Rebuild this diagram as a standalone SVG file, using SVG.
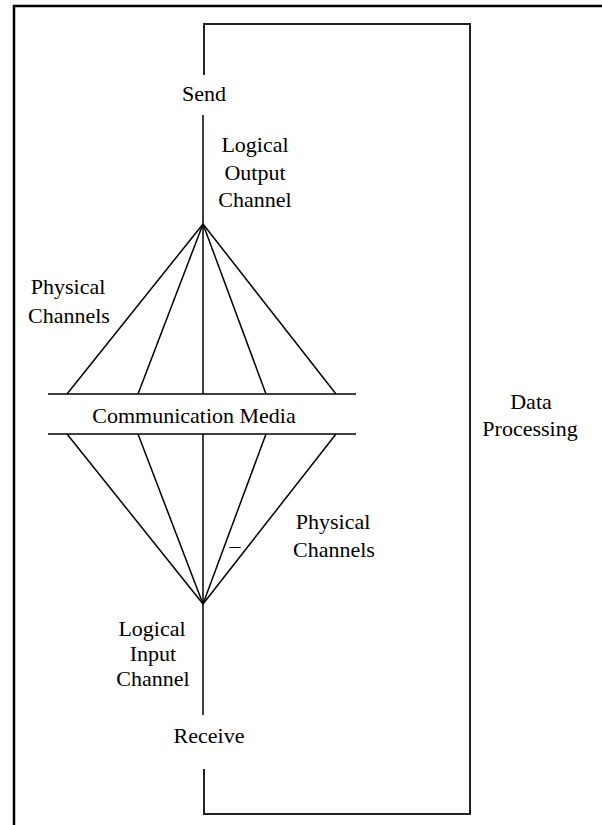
<svg xmlns="http://www.w3.org/2000/svg" width="602" height="825" viewBox="0 0 602 825">
  <style>
    text { font-family: "Liberation Serif", "Times New Roman", serif; font-size: 22px; fill: #000; text-anchor: middle; }
    .wire { stroke: #000; stroke-width: 1.5; fill: none; }
    .loop { stroke: #222; stroke-width: 2; fill: none; }
    .frame { stroke: #000; stroke-width: 2.5; fill: none; }
  </style>
  <rect width="602" height="825" fill="#fff"/>
  <!-- page frame -->
  <polyline class="frame" points="14,825 14,6 602,6"/>

  <g id="connectors">
    <!-- data processing loop -->
    <polyline class="loop" points="204,75 204,24 470,24 470,814 204,814 204,769"/>
    <!-- logical output channel -->
    <line class="wire" x1="203" y1="115" x2="203" y2="224"/>
    <!-- upper physical channels fan -->
    <line class="wire" x1="203" y1="224" x2="67" y2="394"/>
    <line class="wire" x1="203" y1="224" x2="138" y2="394"/>
    <line class="wire" x1="203" y1="224" x2="203" y2="394"/>
    <line class="wire" x1="203" y1="224" x2="266" y2="394"/>
    <line class="wire" x1="203" y1="224" x2="336" y2="394"/>
    <!-- media boundaries -->
    <line class="wire" x1="48" y1="394" x2="356" y2="394"/>
    <line class="wire" x1="48" y1="434" x2="356" y2="434"/>
    <!-- lower physical channels fan -->
    <line class="wire" x1="67" y1="434" x2="203" y2="604"/>
    <line class="wire" x1="138" y1="434" x2="203" y2="604"/>
    <line class="wire" x1="203" y1="434" x2="203" y2="604"/>
    <line class="wire" x1="266" y1="434" x2="203" y2="604"/>
    <line class="wire" x1="336" y1="434" x2="203" y2="604"/>
    <!-- logical input channel -->
    <line class="wire" x1="203" y1="604" x2="203" y2="715"/>
  </g>

  <g id="send"><text x="204" y="101">Send</text></g>
  <g id="logical-output"><text x="255" y="152">Logical</text><text x="255" y="180">Output</text><text x="255" y="207">Channel</text></g>
  <g id="physical-upper"><text x="68" y="294">Physical</text><text x="69" y="323">Channels</text></g>
  <g id="media"><text x="194" y="423">Communication Media</text></g>
  <g id="data-processing"><text x="531" y="409">Data</text><text x="530" y="436">Processing</text></g>
  <g id="physical-lower"><text x="333" y="529">Physical</text><text x="334" y="557">Channels</text><text x="235" y="553">–</text></g>
  <g id="logical-input"><text x="152" y="636">Logical</text><text x="153" y="661">Input</text><text x="153" y="686">Channel</text></g>
  <g id="receive"><text x="209" y="743">Receive</text></g>
</svg>
